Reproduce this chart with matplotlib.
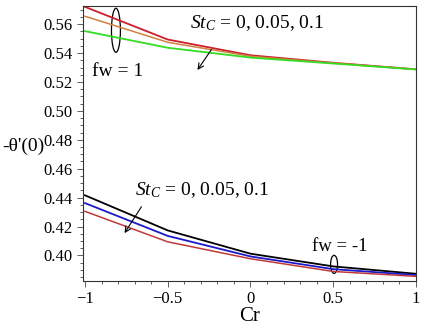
"""Heat transfer rate -theta'(0) against Cr for two suction values."""

import matplotlib
matplotlib.use("Agg")
import matplotlib.pyplot as plt
from matplotlib.patches import Ellipse
from matplotlib.ticker import MultipleLocator, FormatStrFormatter

plt.rcParams["font.family"] = ["Liberation Serif", "DejaVu Serif"]
plt.rcParams["mathtext.fontset"] = "custom"
plt.rcParams["mathtext.it"] = "Liberation Serif:italic"
plt.rcParams["mathtext.rm"] = "Liberation Serif"

# Cr values where the curves are sampled
cr = [-1.0, -0.5, 0.0, 0.5, 1.0]

# fw = 1, St_C = 0, 0.05, 0.1
fw1_st0 = [0.5720, 0.5494, 0.5385, 0.5333, 0.5288]
fw1_st005 = [0.5655, 0.5475, 0.5378, 0.5331, 0.5288]
fw1_st01 = [0.5552, 0.5437, 0.5369, 0.5328, 0.5287]

# fw = -1, St_C = 0, 0.05, 0.1
fwm1_st0 = [0.4416, 0.4173, 0.4012, 0.3924, 0.3873]
fwm1_st005 = [0.4362, 0.4135, 0.3993, 0.3905, 0.3864]
fwm1_st01 = [0.4305, 0.4094, 0.3977, 0.3889, 0.3855]

fig = plt.figure(figsize=(4.25, 3.29), dpi=100)
ax = fig.add_axes([83 / 425, 1 - 281 / 329, (416 - 83) / 425, (281 - 6) / 329])

ax.plot(cr, fw1_st0, color="#cc1f2a", lw=1.3)
ax.plot(cr, fw1_st005, color="#d08040", lw=1.1)
ax.plot(cr, fw1_st01, color="#33dd22", lw=1.3)

ax.plot(cr, fwm1_st0, color="black", lw=1.3)
ax.plot(cr, fwm1_st005, color="#1a1acc", lw=1.3)
ax.plot(cr, fwm1_st01, color="#c0393a", lw=1.1)

ax.set_xlim(-1.012, 1.0)
ax.set_ylim(0.3823, 0.5726)

ax.xaxis.set_major_locator(MultipleLocator(0.5))
ax.xaxis.set_minor_locator(MultipleLocator(0.1))
ax.yaxis.set_major_locator(MultipleLocator(0.02))
ax.yaxis.set_minor_locator(MultipleLocator(0.005))
ax.yaxis.set_major_formatter(FormatStrFormatter("%.2f"))
ax.set_xticks([-1, -0.5, 0, 0.5, 1])
ax.set_xticklabels(["\u22121", "\u22120.5", "0", "0.5", "1"])

ax.tick_params(which="both", direction="out", top=False, right=False,
               labelsize=12, width=0.6, color="#444444")
ax.tick_params(which="major", length=4)
ax.tick_params(which="minor", length=2)
for s in ax.spines.values():
    s.set_linewidth(0.8)
    s.set_color("#333333")

ax.set_xlabel("Cr", fontsize=15, labelpad=0)
ax.set_ylabel("-\u03b8'(0)", fontsize=14, rotation=0, ha="center", va="center")
ax.yaxis.set_label_coords(-0.178, 0.49)

# annotations for fw = 1
ax.text(0.32, 0.975, r"$St_C$ = 0, 0.05, 0.1", transform=ax.transAxes,
        fontsize=14, va="top")
ax.annotate("", xy=(-0.33, 0.5267), xytext=(-0.227, 0.544),
            arrowprops=dict(arrowstyle="->", lw=0.8, color="black"))
ax.add_patch(Ellipse((-0.813, 0.5558), 0.054, 0.0305, fill=False, lw=0.9))
ax.text(0.027, 0.76, "fw = 1", transform=ax.transAxes, fontsize=14, va="center")

# annotations for fw = -1
ax.text(0.155, 0.33, r"$St_C$ = 0, 0.05, 0.1", transform=ax.transAxes,
        fontsize=14, va="center")
ax.annotate("", xy=(-0.77, 0.4138), xytext=(-0.65, 0.4353),
            arrowprops=dict(arrowstyle="->", lw=0.8, color="black"))
ax.add_patch(Ellipse((0.505, 0.3938), 0.042, 0.0125, fill=False, lw=0.9))
ax.text(0.688, 0.124, "fw = -1", transform=ax.transAxes, fontsize=13.5, va="center")

fig.savefig("out.png", dpi=100)
